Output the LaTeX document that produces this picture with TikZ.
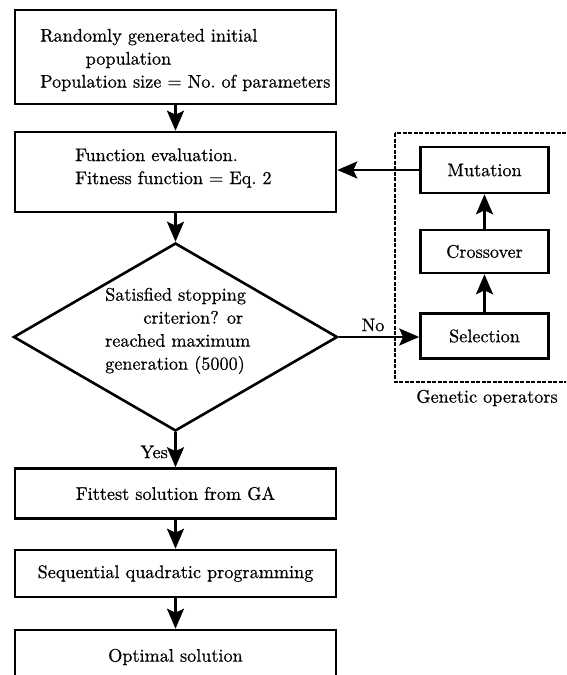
\documentclass[tikz,border=0pt]{standalone}
\usepackage{fontspec}
\newfontfamily\hv{lmroman10-regular.otf}[FakeBold=0.6]
\usetikzlibrary{arrows.meta,shapes.geometric}
\begin{document}
\begin{tikzpicture}[x=1pt,y=-1pt,
  box/.style={draw, line width=2.6pt, rectangle, inner sep=0pt},
  lbl/.style={font=\hv\fontsize{18.2}{23}\selectfont, inner sep=0pt},
  conn/.style={line width=2.6pt, -{Stealth[length=20pt,width=17pt,inset=4pt]}},
  opsbox/.style={draw, line width=2.2pt, dash pattern=on 4pt off 1.5pt}
]
\useasboundingbox (0,0) rectangle (566,675);
\clip (0,0) rectangle (566,675);

% main column
\node[box, minimum width=321pt, minimum height=94pt] (init) at (175.5,57) {};
\node[lbl, align=left, anchor=west] (inittext) at (40,60)
  {Randomly generated initial\\\hspace*{2.5em}population\\Population size = No.\ of parameters};

\node[box, minimum width=321pt, minimum height=80pt] (func) at (175.5,172) {};
\node[lbl, align=left, anchor=west] (functext) at (75,168)
  {Function evaluation.\\Fitness function = Eq.\ 2};

\node[draw, diamond, line width=2.6pt, minimum width=324pt, minimum height=188pt, inner sep=0pt] (dec) at (175.5,337) {};
\node[lbl, align=left, anchor=west] (dectext) at (105,331)
  {Satisfied stopping\\\hspace*{2.1em}criterion? or\\reached maximum\\generation (5000)};

\node[box, minimum width=321pt, minimum height=50pt, lbl] (fit) at (175.5,493.5) {Fittest solution from GA};
\node[box, minimum width=321pt, minimum height=47pt, lbl] (sqp) at (175.5,573.5) {Sequential quadratic programming};
\node[box, minimum width=321pt, minimum height=70pt] (opt) at (175.5,665) {};
\node[lbl] (opttext) at (175.5,657) {Optimal solution};

% genetic operators
\draw[opsbox] (395,133) rectangle (600,382);
\node[box, minimum width=128pt, minimum height=46pt, lbl] (mut) at (484.5,170) {Mutation};
\node[box, minimum width=128pt, minimum height=43pt, lbl] (cross) at (484.5,251.5) {Crossover};
\node[box, minimum width=128pt, minimum height=45pt, lbl] (sel) at (484.5,336) {Selection};
\node[lbl] (gen) at (487,398) {Genetic operators};

% connectors
\draw[conn] (init.south) -- (func.north);
\draw[conn] (func.south) -- (dec.north);
\draw[conn] (dec.south) -- (fit.north);
\draw[conn] (fit.south) -- (sqp.north);
\draw[conn] (sqp.south) -- (opt.north);
\draw[conn] (dec.east) -- (dec.east -| sel.west);
\draw[conn] (sel.north) -- (cross.south);
\draw[conn] (cross.north) -- (mut.south);
\draw[conn] (mut.west) -- (mut.west -| func.east);

\node[lbl] (no) at (373,325) {No};
\node[lbl, anchor=east] (yes) at (168,452) {Yes};
\end{tikzpicture}
\end{document}
